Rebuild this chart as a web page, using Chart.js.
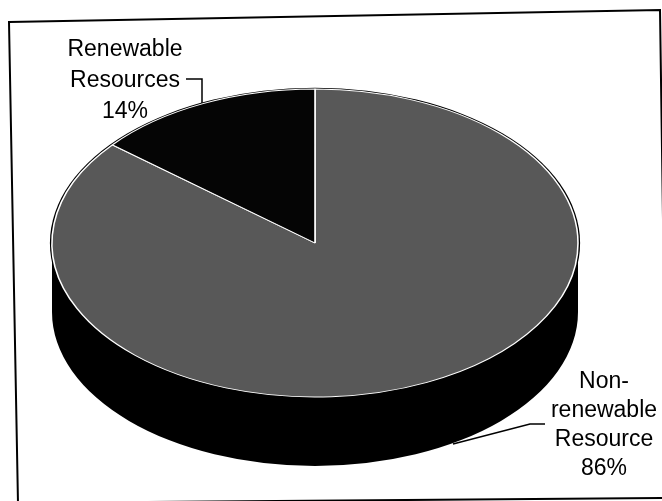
<!DOCTYPE html>
<html>
<head>
<meta charset="utf-8">
<script src="https://cdn.jsdelivr.net/npm/chart.js@4"></script>
<style>
  html, body { margin: 0; background: #fff; }
  canvas { display: block; }
</style>
</head>
<body>
<canvas id="pie" width="662" height="501"></canvas>
<script>
// slice names (one entry per text line) and their shares
const CATEGORIES = [['Non-', 'renewable', 'Resource'], ['Renewable', 'Resources']];
const SHARES = [86, 14];
const SLICE_COLORS = ['#585858', '#050505'];

// projected top face of the pie and the thickness of its rim, in page px
const TILT = { cx: 315, cy: 243, rx: 263, ry: 154, depth: 69 };

// where each slice caption sits, plus its leader line
const LABEL_SPOTS = [
  { x: 604, y: 382, lh: 29, leader: [[545, 424], [530, 424], [453, 444]] },
  { x: 125, y: 50, lh: 31, leader: [[186, 79], [202, 79], [202, 103]] },
];

function applyTilt(ctx, arc) {
  const r = arc.outerRadius;
  ctx.translate(TILT.cx, TILT.cy);
  ctx.scale(TILT.rx / r, TILT.ry / r);
  ctx.translate(-arc.x, -arc.y);
}

// squash the pie into an ellipse and paint the black rim under it
const tiltPlugin = {
  id: 'tilt',
  beforeDatasetsDraw(chart) {
    const arc = chart.getDatasetMeta(0).data[0];
    const ctx = chart.ctx;
    const r = arc.outerRadius;
    const d = TILT.depth * r / TILT.ry;
    ctx.save();
    applyTilt(ctx, arc);
    ctx.fillStyle = '#000';
    ctx.beginPath();
    ctx.arc(arc.x, arc.y + d, r, 0, Math.PI * 2);
    ctx.rect(arc.x - r, arc.y, 2 * r, d);
    ctx.fill();
    ctx.beginPath();
    ctx.arc(arc.x, arc.y, r + 2, 0, Math.PI * 2);
    ctx.fill();
  },
  afterDatasetsDraw(chart) {
    chart.ctx.restore();
  },
};

const labelPlugin = {
  id: 'sliceLabels',
  afterDraw(chart) {
    const ctx = chart.ctx;
    const total = SHARES.reduce((s, v) => s + v, 0);
    ctx.save();
    ctx.font = '23px "Liberation Sans", Arial, sans-serif';
    ctx.fillStyle = '#000';
    ctx.strokeStyle = '#000';
    ctx.lineWidth = 1.5;
    ctx.textAlign = 'center';
    ctx.textBaseline = 'middle';
    LABEL_SPOTS.forEach((spot, i) => {
      const lines = CATEGORIES[i].concat(Math.round(SHARES[i] / total * 100) + '%');
      lines.forEach((t, j) => ctx.fillText(t, spot.x, spot.y + j * spot.lh));
      ctx.beginPath();
      spot.leader.forEach(([x, y], k) => (k ? ctx.lineTo(x, y) : ctx.moveTo(x, y)));
      ctx.stroke();
    });

    // outer frame
    ctx.lineWidth = 2;
    ctx.beginPath();
    ctx.moveTo(9, 22);
    ctx.lineTo(660, 10);
    ctx.lineTo(667, 498);
    ctx.lineTo(18, 503);
    ctx.closePath();
    ctx.stroke();
    ctx.restore();
  },
};

new Chart(document.getElementById('pie'), {
  type: 'pie',
  data: {
    labels: CATEGORIES.map((l) => l.join(' ')),
    datasets: [{
      data: SHARES,
      backgroundColor: SLICE_COLORS,
      borderColor: '#fff',
      borderWidth: 1.5,
      clip: false,
    }],
  },
  options: {
    responsive: false,
    animation: false,
    layout: { padding: 0 },
    plugins: {
      legend: { display: false },
      tooltip: { enabled: false },
    },
  },
  plugins: [tiltPlugin, labelPlugin],
});
</script>
</body>
</html>
